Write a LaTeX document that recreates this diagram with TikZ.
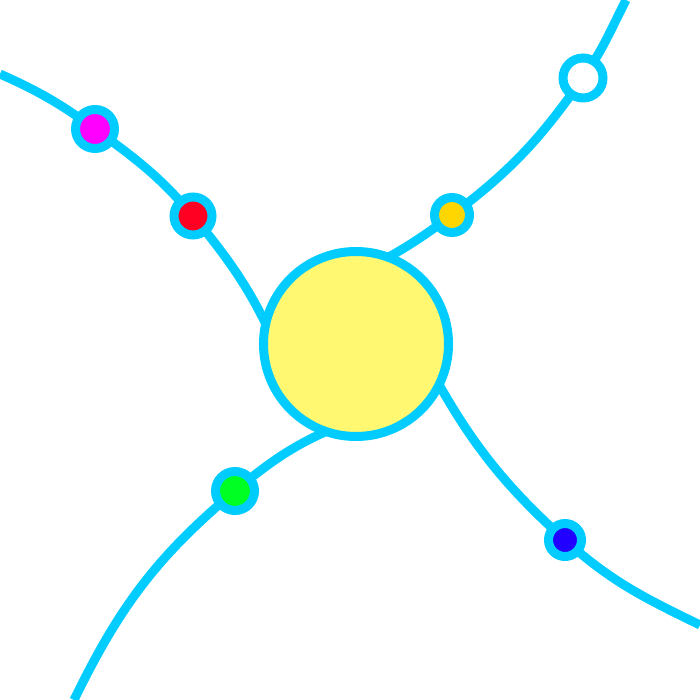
\documentclass[tikz,border=0pt]{standalone}
\usetikzlibrary{backgrounds}
\definecolor{orbit}{RGB}{0,204,255}
\definecolor{sunfill}{RGB}{255,248,112}
\definecolor{goldfill}{RGB}{255,214,0}
\definecolor{magfill}{RGB}{255,0,255}
\definecolor{redfill}{RGB}{255,0,34}
\definecolor{greenfill}{RGB}{0,255,34}
\definecolor{bluefill}{RGB}{34,0,255}

\begin{document}
\begin{tikzpicture}[
  x=1pt, y=-1pt,
  sun/.style={circle, draw=orbit, line width=9pt, fill=sunfill,
              minimum size=185pt, inner sep=0pt},
  planet/.style={circle, draw=orbit, line width=9pt, fill=white,
                 minimum size=39pt, inner sep=0pt},
  orbitline/.style={draw=orbit, line width=9pt},
]
 \useasboundingbox (0,0) rectangle (700,700);

 % Sun
 \node[sun] (Sun) at (356,344) {};

 % Planets
 \node[planet, fill=magfill] (Mag) at (95,129) {};
 \node[planet, fill=redfill, minimum size=38pt] (Red) at (193,216) {};
 \node[planet, fill=goldfill, minimum size=35pt] (Gold) at (452,215) {};
 \node[planet, minimum size=40pt] (White) at (583,78) {};
 \node[planet, fill=greenfill] (Green) at (235,491) {};
 \node[planet, fill=bluefill, minimum size=33pt] (Blue) at (565,540) {};

 % Curve ends
 \coordinate (EdgeNW) at (0,74);
 \coordinate (EdgeNE) at (626,0);
 \coordinate (EdgeSW) at (74,700);
 \coordinate (EdgeSE) at (700,625);
 \coordinate (InNW) at (287,372);
 \coordinate (InNE) at (355,275);
 \coordinate (InSW) at (355,420);
 \coordinate (InSE) at (420,350);

 % Orbits
 \begin{scope}[on background layer]
  \draw[orbitline] (EdgeNW) to[out=-24,in=144] (Mag.center)
    to[out=-36,in=130] (Red.center) to[out=-50,in=112] (InNW);
  \draw[orbitline] (InNE) to[out=27,in=217] (Gold.center)
    to[out=37,in=235] (White.center) to[out=55,in=243] (EdgeNE);
  \draw[orbitline] (EdgeSW) to[out=64,in=220] (Green.center)
    to[out=40,in=200] (InSW);
  \draw[orbitline] (InSE) to[out=-62,in=138] (Blue.center)
    to[out=-42,in=154] (EdgeSE);
 \end{scope}
\end{tikzpicture}
\end{document}
